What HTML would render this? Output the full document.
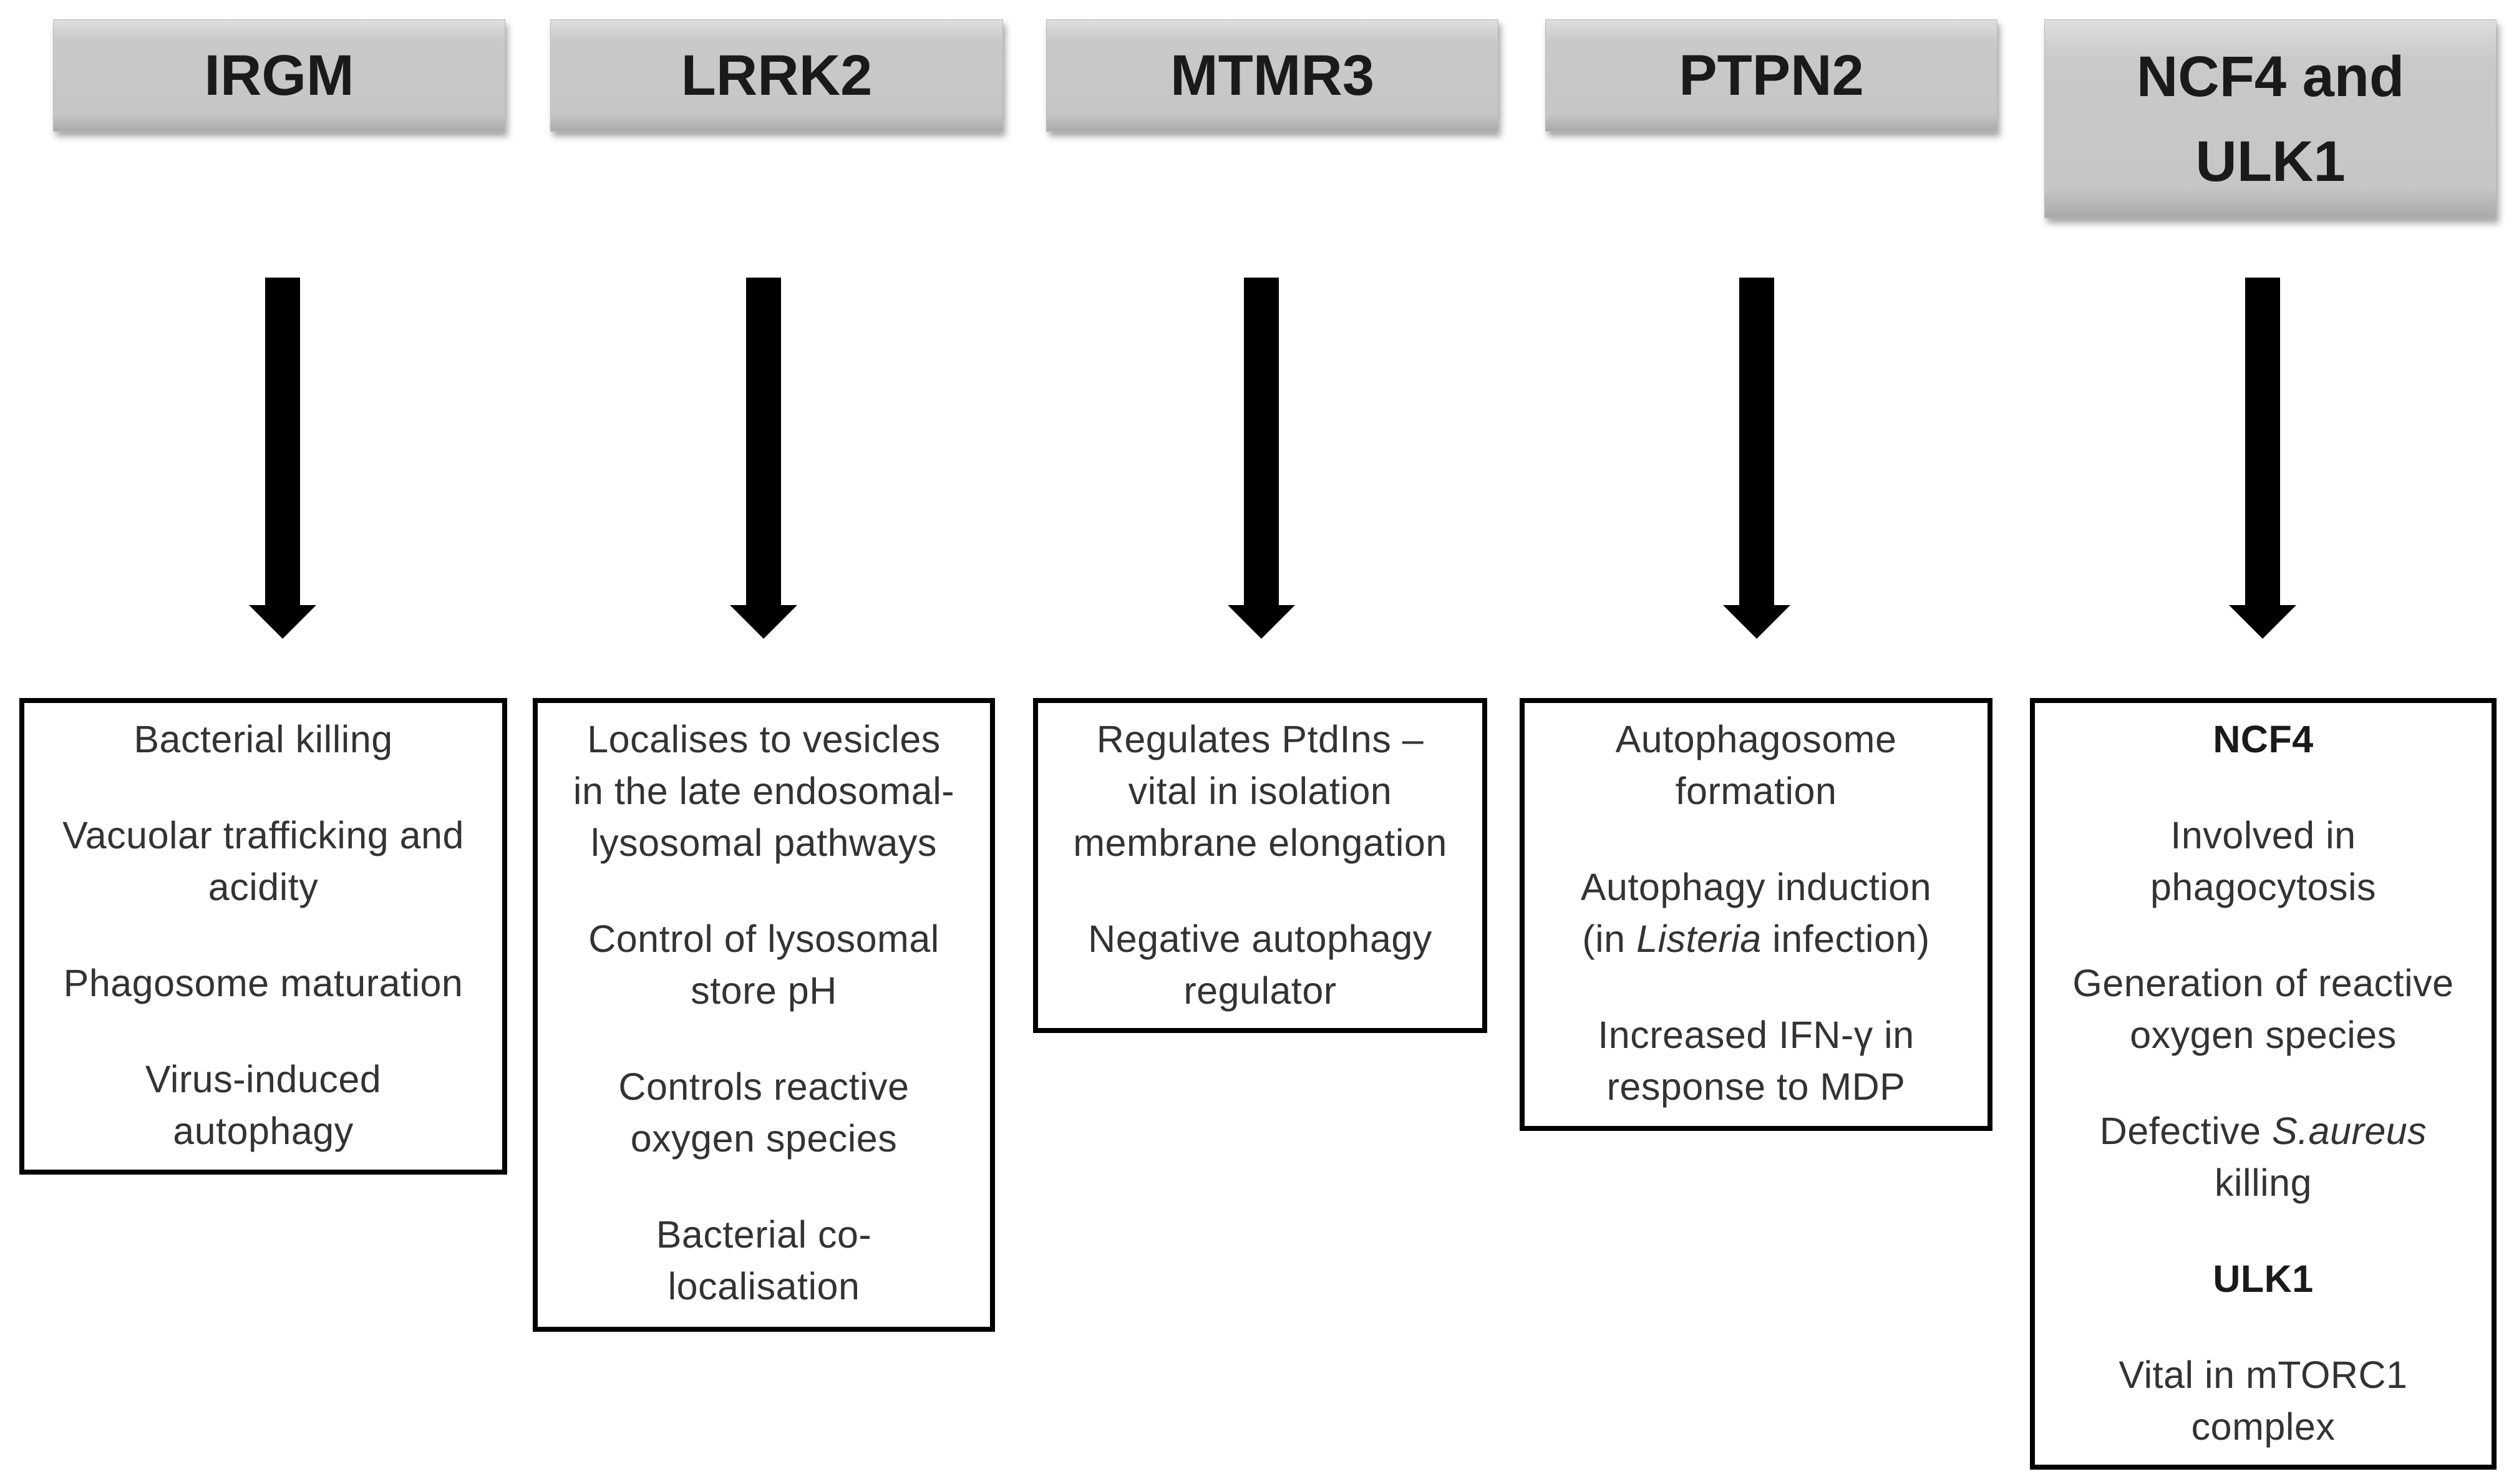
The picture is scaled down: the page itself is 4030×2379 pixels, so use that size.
<!DOCTYPE html>
<html><head><meta charset="utf-8"><style>
body{margin:0;width:4030px;height:2379px;background:#fff;position:relative;overflow:hidden;font-family:"Liberation Sans",sans-serif}
.h{position:absolute;top:31px;height:180px;background:linear-gradient(#dedede,#c9c9c9 20%,#c6c6c6 85%,#a9a9a9);box-shadow:4px 8px 10px rgba(0,0,0,.35);border:1px solid #bbb;box-sizing:border-box;display:flex;align-items:center;justify-content:center;text-align:center;font-weight:bold;font-size:92px;color:#1a1a1a;line-height:136px}
.a{position:absolute;top:445px;width:56px;height:530px;background:#000;margin-left:-28px}
.a:after{content:"";position:absolute;left:-26px;top:525px;border-left:54px solid transparent;border-right:54px solid transparent;border-top:54px solid #000}
.b{position:absolute;top:1119px;border:8px solid #000;box-sizing:border-box;text-align:center;font-size:61px;line-height:83px;color:#333;padding-top:17px;letter-spacing:0.5px}
.b p{margin:0 0 71px 0}
</style></head><body>
<div class="h" style="left:85px;width:725px">IRGM</div>
<div class="h" style="left:882px;width:726px">LRRK2</div>
<div class="h" style="left:1677px;width:725px">MTMR3</div>
<div class="h" style="left:2477px;width:725px">PTPN2</div>
<div class="h" style="left:3277px;width:725px;height:319px">NCF4 and<br>ULK1</div>
<div class="a" style="left:453px"></div>
<div class="a" style="left:1224px"></div>
<div class="a" style="left:2022px"></div>
<div class="a" style="left:2816px"></div>
<div class="a" style="left:3627px"></div>
<div class="b" style="left:31px;width:782px;height:764px">
<p>Bacterial killing</p><p>Vacuolar trafficking and<br>acidity</p><p>Phagosome maturation</p><p>Virus-induced<br>autophagy</p></div>
<div class="b" style="left:854px;width:741px;height:1016px">
<p>Localises to vesicles<br>in the late endosomal-<br>lysosomal pathways</p><p>Control of lysosomal<br>store pH</p><p>Controls reactive<br>oxygen species</p><p>Bacterial co-<br>localisation</p></div>
<div class="b" style="left:1656px;width:728px;height:537px">
<p>Regulates PtdIns –<br>vital in isolation<br>membrane elongation</p><p>Negative autophagy<br>regulator</p></div>
<div class="b" style="left:2436px;width:758px;height:694px">
<p>Autophagosome<br>formation</p><p>Autophagy induction<br>(in <i>Listeria</i> infection)</p><p>Increased IFN-γ in<br>response to MDP</p></div>
<div class="b" style="left:3254px;width:748px;height:1237px">
<p style="font-weight:bold;color:#1a1a1a">NCF4</p><p>Involved in<br>phagocytosis</p><p>Generation of reactive<br>oxygen species</p><p>Defective <i>S.aureus</i><br>killing</p><p style="font-weight:bold;color:#1a1a1a">ULK1</p><p>Vital in mTORC1<br>complex</p></div>
</body></html>
